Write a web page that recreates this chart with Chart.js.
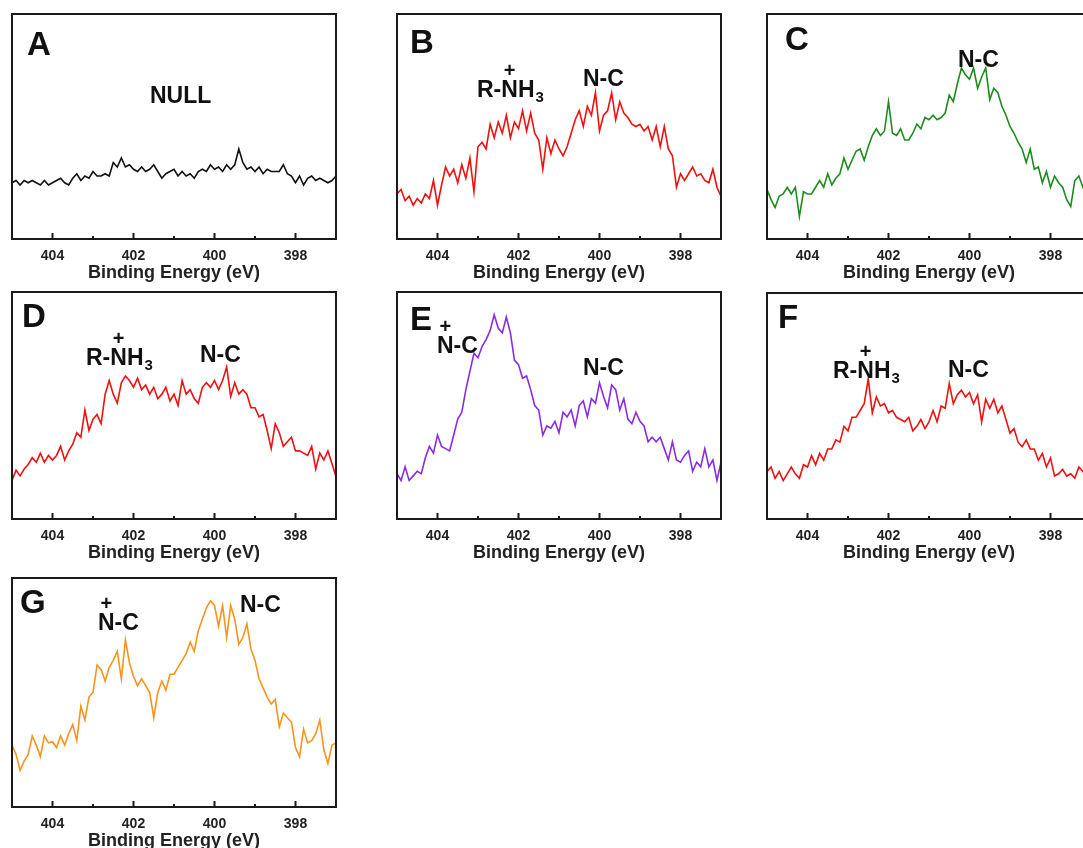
<!DOCTYPE html>
<html>
<head>
<meta charset="utf-8">
<title>N 1s XPS</title>
<script src="https://cdn.jsdelivr.net/npm/chart.js@4.4.1/dist/chart.umd.min.js"></script>
<style>
    html, body { margin: 0; padding: 0; background: #fff; overflow: hidden; }
    body { width: 1083px; height: 848px; position: relative; }
    canvas { position: absolute; }
</style>
</head>
<body>
<canvas id="panelA"></canvas>
<canvas id="panelB"></canvas>
<canvas id="panelC"></canvas>
<canvas id="panelD"></canvas>
<canvas id="panelE"></canvas>
<canvas id="panelF"></canvas>
<canvas id="panelG"></canvas>
<script>
// Binding energy (eV), same for every panel
const energy = [
    405.0, 404.9, 404.8, 404.7, 404.6, 404.5, 404.4, 404.3, 404.2, 404.1,
    404.0, 403.9, 403.8, 403.7, 403.6, 403.5, 403.4, 403.3, 403.2, 403.1,
    403.0, 402.9, 402.8, 402.7, 402.6, 402.5, 402.4, 402.3, 402.2, 402.1,
    402.0, 401.9, 401.8, 401.7, 401.6, 401.5, 401.4, 401.3, 401.2, 401.1,
    401.0, 400.9, 400.8, 400.7, 400.6, 400.5, 400.4, 400.3, 400.2, 400.1,
    400.0, 399.9, 399.8, 399.7, 399.6, 399.5, 399.4, 399.3, 399.2, 399.1,
    399.0, 398.9, 398.8, 398.7, 398.6, 398.5, 398.4, 398.3, 398.2, 398.1,
    398.0, 397.9, 397.8, 397.7, 397.6, 397.5, 397.4, 397.3, 397.2, 397.1,
    397.0,
]

// Tick labels on the energy axis
const tickLabels = [404, 402, 400, 398]

// Intensity (a.u.), one array per sample
const intensityA = [
    25, 26, 24, 26, 25, 26, 25, 24, 26, 24,
    25, 26, 27, 25, 24, 27, 29, 26, 28, 27,
    30, 28, 28, 29, 28, 34, 32, 36, 32, 33,
    31, 30, 32, 30, 31, 33, 30, 27, 29, 30,
    31, 28, 30, 28, 29, 27, 30, 31, 30, 33,
    31, 32, 30, 33, 31, 33, 40, 34, 31, 32,
    30, 32, 29, 31, 30, 30, 30, 33, 29, 28,
    25, 28, 24, 27, 28, 26, 27, 26, 25, 26,
    28,
]
const intensityB = [
    20, 22, 17, 19, 15, 18, 16, 20, 18, 26,
    15, 24, 32, 28, 31, 25, 33, 27, 36, 21,
    41, 43, 40, 51, 45, 52, 47, 55, 45, 52,
    49, 57, 48, 56, 47, 44, 31, 45, 38, 44,
    40, 37, 41, 47, 53, 57, 50, 59, 55, 65,
    48, 55, 57, 65, 53, 61, 56, 54, 51, 50,
    51, 48, 50, 44, 50, 41, 50, 40, 37, 23,
    29, 26, 29, 32, 28, 29, 26, 25, 31, 23,
    19,
]
const intensityC = [
    22, 17.5, 14, 19, 20, 23, 20, 23, 10, 21,
    20, 20, 23, 26, 23, 29, 24, 27, 29, 36,
    31, 35, 39, 40, 35, 41, 46, 49, 46, 48,
    61, 47, 46, 49, 44, 44, 47, 51, 49, 54,
    53, 55, 53, 54, 56, 64, 61, 69, 76, 73,
    71, 76, 67, 72, 76, 62, 67, 65, 59, 55,
    50, 47, 43, 40, 34, 40, 31, 32, 25, 30,
    23, 28, 25, 23, 17.5, 14.5, 26, 28, 23, 26,
    22,
]
const intensityD = [
    17, 21.5, 19, 22, 24, 27, 25, 29, 25, 28,
    26, 28, 32, 26, 30, 33, 38, 36, 48, 39,
    44, 46, 42, 55, 61, 55, 51, 60, 63, 61,
    58, 62, 57, 59, 55, 58, 53, 55, 58, 52,
    55, 50, 61, 55, 57, 53, 51, 58, 60, 58,
    61, 57, 61, 67, 54, 60, 55, 57, 55, 49,
    49, 45, 46, 39, 31, 42, 38, 32, 34, 36,
    30, 30, 29, 28, 32, 22, 29, 26, 30, 24.5,
    18.6,
]
const intensityE = [
    20, 17, 23, 17, 19, 21, 20, 27, 32, 29,
    37, 32, 31, 30, 37, 44, 47, 57, 65, 73,
    71, 76, 79, 83, 90, 84, 82, 89, 82, 70,
    68, 62, 63, 57, 50, 48, 37, 41, 40, 43,
    38, 47, 45, 48, 41, 50, 52, 45, 53, 51,
    60, 54, 49, 59, 57, 48, 53, 44, 42, 47,
    43, 41, 34, 36, 34, 36, 31, 26, 34, 26,
    25, 28, 30, 21, 25, 23, 31, 23, 26, 17,
    25,
]
const intensityF = [
    21, 23, 18, 21, 17, 20, 23, 20, 18, 24,
    23, 28, 24, 29, 26, 31, 31, 35, 34, 41,
    39, 45, 45, 48, 51, 62, 47, 54, 50, 51,
    47, 48, 45, 44, 43, 45, 39, 41, 44, 40,
    43, 48, 43, 50, 49, 60, 51, 55, 57, 54,
    56, 51, 55, 43, 53, 49, 53, 47, 50, 44,
    38, 40, 34, 32, 35, 31, 31, 26, 29, 23,
    27, 19, 20, 22, 19, 20, 18, 23, 21, 23,
    20,
]
const intensityG = [
    27, 23, 16, 20, 23, 31, 27, 22, 31, 28,
    28.5, 26, 31, 27, 32, 36, 29, 44, 38, 48,
    50, 62, 60, 55, 61, 64, 68, 56, 73, 63,
    57, 53, 56, 53, 50, 39, 50, 55, 51, 58,
    58, 61, 64, 67, 72, 68, 77, 82, 87, 90,
    88, 79, 88, 74, 88, 82, 71, 74, 80, 69,
    64, 56, 52, 48, 45, 47, 35, 41, 39, 37,
    26, 22, 34, 28, 29, 32, 38, 25, 19, 27,
    28,
]

// Panel layout: frame box in page pixels, colour and text
const FONT = 'Arial, "Liberation Sans", sans-serif'
const AXIS_H = 45

const panels = [
    { id: 'panelA', box: [12, 14, 324, 225], color: '#111111', values: intensityA, letter: 'A', letterAt: [15, 41],
        notes: [{ text: 'NULL', at: [138, 89] }] },
    { id: 'panelB', box: [397, 14, 324, 225], color: '#ee1111', values: intensityB, letter: 'B', letterAt: [13, 39],
        notes: [{ text: 'R-NH', sub: '3', plus: 2, at: [80, 83] }, { text: 'N-C', at: [186, 72] }] },
    { id: 'panelC', box: [767, 14, 324, 225], color: '#1c8c1c', values: intensityC, letter: 'C', letterAt: [18, 36],
        notes: [{ text: 'N-C', at: [191, 53] }] },
    { id: 'panelD', box: [12, 292, 324, 227], color: '#ee1111', values: intensityD, letter: 'D', letterAt: [10, 35],
        notes: [{ text: 'R-NH', sub: '3', plus: 2, at: [74, 73] }, { text: 'N-C', at: [188, 70] }] },
    { id: 'panelE', box: [397, 292, 324, 227], color: '#8a2be2', values: intensityE, letter: 'E', letterAt: [13, 38],
        notes: [{ text: 'N-C', plus: 0, at: [40, 61] }, { text: 'N-C', at: [186, 83] }] },
    { id: 'panelF', box: [767, 293, 324, 226], color: '#ee1111', values: intensityF, letter: 'F', letterAt: [11, 35],
        notes: [{ text: 'R-NH', sub: '3', plus: 2, at: [66, 85] }, { text: 'N-C', at: [181, 84] }] },
    { id: 'panelG', box: [12, 578, 324, 229], color: '#f7941d', values: intensityG, letter: 'G', letterAt: [8, 35],
        notes: [{ text: 'N-C', plus: 0, at: [86, 52] }, { text: 'N-C', at: [228, 34] }] },
]

// Frame, inward ticks, panel letter and peak labels
const framePlugin = {
    id: 'frame',
    afterDraw(chart, args, opts) {
        const { ctx, chartArea: a } = chart
        const xs = chart.scales.x
        ctx.save()
        ctx.strokeStyle = '#1a1a1a'
        ctx.lineWidth = 2
        xs.ticks.forEach(t => {
            const px = xs.getPixelForValue(t.value)
            const len = t.value % 2 === 0 ? 6 : 3
            ctx.beginPath()
            ctx.moveTo(px, a.bottom)
            ctx.lineTo(px, a.bottom - len)
            ctx.stroke()
        })
        ctx.strokeRect(a.left, a.top, a.right - a.left, a.bottom - a.top)

        ctx.fillStyle = '#111'
        ctx.textBaseline = 'alphabetic'
        ctx.textAlign = 'left'
        ctx.font = `bold 33px ${FONT}`
        ctx.fillText(opts.letter, a.left + opts.letterAt[0], a.top + opts.letterAt[1])

        opts.notes.forEach(n => {
            const x = a.left + n.at[0]
            const y = a.top + n.at[1]
            ctx.font = `bold 23px ${FONT}`
            ctx.textAlign = 'left'
            ctx.fillText(n.text, x, y)
            const w = ctx.measureText(n.text).width
            if (n.plus !== undefined) {
                const before = ctx.measureText(n.text.slice(0, n.plus)).width
                const ch = ctx.measureText(n.text[n.plus]).width
                ctx.font = `bold 20px ${FONT}`
                ctx.textAlign = 'center'
                ctx.fillText('+', x + before + ch / 2, y - 20)
            }
            if (n.sub) {
                ctx.font = `bold 15px ${FONT}`
                ctx.textAlign = 'left'
                ctx.fillText(n.sub, x + w + 1, y + 5)
            }
        })
        ctx.restore()
    },
}

panels.forEach(p => {
    const canvas = document.getElementById(p.id)
    const [left, top, w, h] = p.box
    canvas.width = w + 2
    canvas.height = h + 1 + AXIS_H
    canvas.style.left = `${left - 1}px`
    canvas.style.top = `${top - 1}px`

    // eslint-disable-next-line no-new, no-undef
    new Chart(canvas, {
        type: 'line',
        data: {
            datasets: [{
                data: energy.map((e, i) => ({ x: e, y: p.values[i] })),
                borderColor: p.color,
                borderWidth: 1.6,
                pointRadius: 0,
                tension: 0,
                fill: false,
            }],
        },
        options: {
            responsive: false,
            animation: false,
            devicePixelRatio: 1,
            layout: { padding: { top: 1, left: 1, right: 1, bottom: 0 } },
            plugins: {
                legend: { display: false },
                tooltip: { enabled: false },
                frame: { letter: p.letter, letterAt: p.letterAt, notes: p.notes },
            },
            scales: {
                x: {
                    type: 'linear',
                    min: 397,
                    max: 405,
                    reverse: true,
                    // tick marks are drawn inward by the plugin; this only offsets the labels
                    grid: { display: true, drawOnChartArea: false, drawTicks: true, tickLength: 9, tickColor: 'rgba(0,0,0,0)' },
                    border: { display: false },
                    ticks: {
                        stepSize: 1,
                        autoSkip: false,
                        maxRotation: 0,
                        padding: 0,
                        color: '#222',
                        font: { family: FONT, size: 14, weight: 'bold' },
                        callback: v => (tickLabels.includes(v) ? String(v) : ''),
                    },
                    title: {
                        display: true,
                        text: 'Binding Energy (eV)',
                        color: '#222',
                        padding: 0,
                        font: { family: FONT, size: 18, weight: 'bold' },
                    },
                    afterFit: scale => { scale.height = AXIS_H },
                },
                y: { display: false, min: 0, max: 100 },
            },
        },
        plugins: [framePlugin],
    })
})
</script>
</body>
</html>
